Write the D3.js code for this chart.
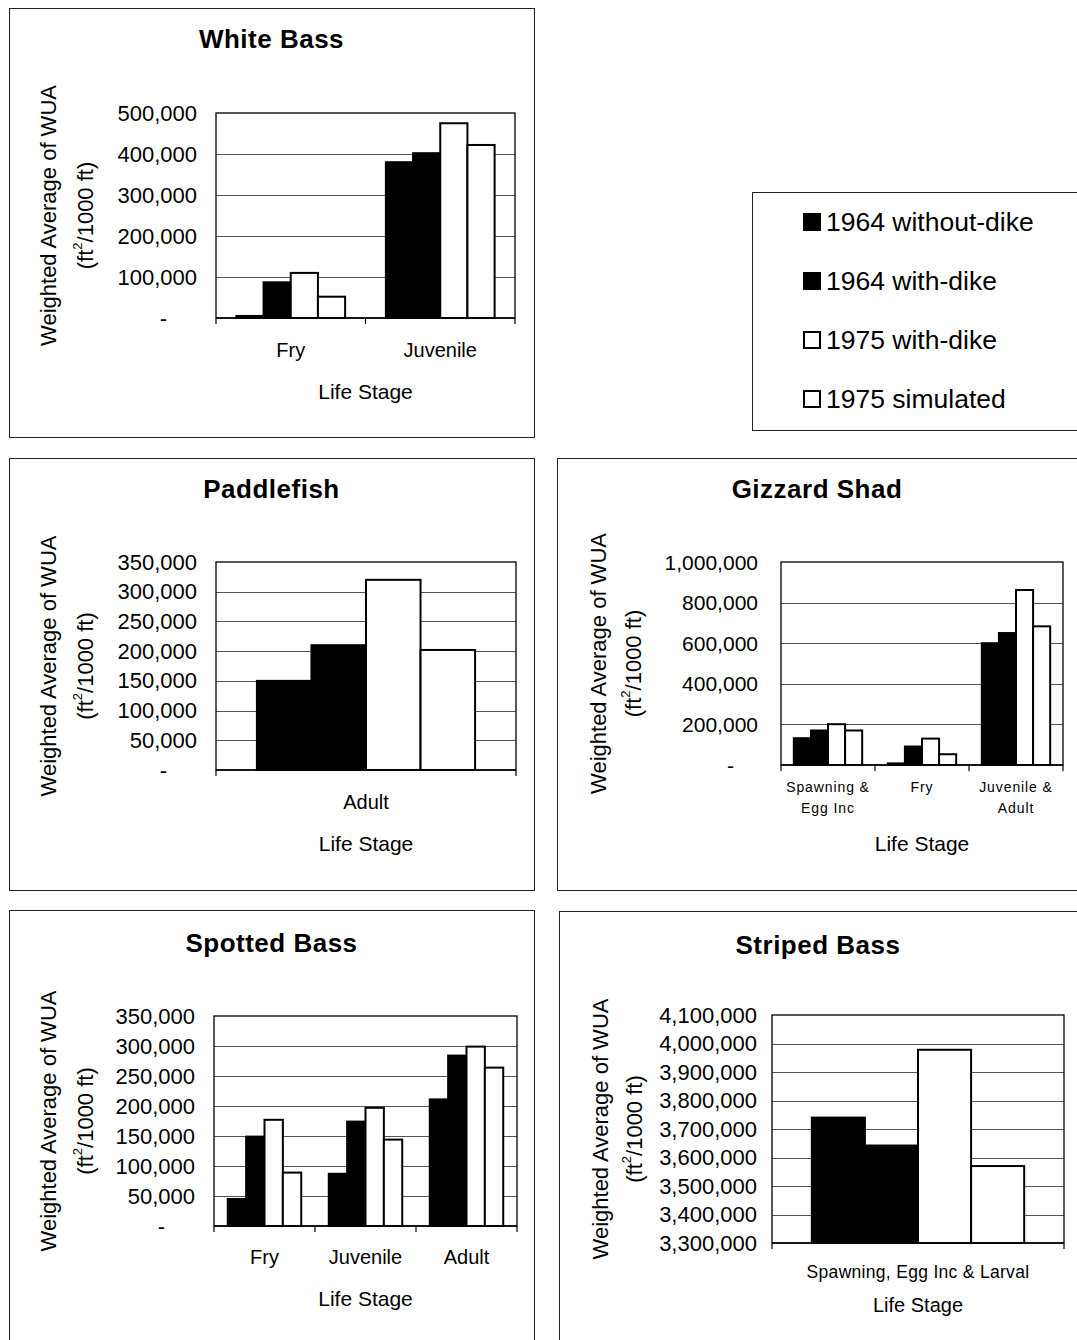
<!DOCTYPE html>
<html>
<head>
<meta charset="utf-8">
<script src="https://cdn.jsdelivr.net/npm/d3@7"></script>
<style>
  html, body { margin: 0; padding: 0; background: #fff; }
  svg { display: block; font-family: Arial, "Liberation Sans", sans-serif; }
</style>
</head>
<body>
<svg id="chart" width="1077" height="1340"></svg>
<script>
// ---------- DATA ----------
const seriesNames = ["1964 without-dike", "1964 with-dike", "1975 with-dike", "1975 simulated"];
const seriesFills = ["#000", "#000", "#fff", "#fff"];

const whiteBassStages = [["Fry"], ["Juvenile"]];
const whiteBassValues = [[5000, 87000, 110000, 52000], [380000, 402000, 475000, 422000]];
const whiteBassTicks = [0, 100000, 200000, 300000, 400000, 500000];

const paddlefishStages = [["Adult"]];
const paddlefishValues = [[150000, 210000, 320000, 202000]];
const paddlefishTicks = [0, 50000, 100000, 150000, 200000, 250000, 300000, 350000];

const gizzardStages = [["Spawning &", "Egg Inc"], ["Fry"], ["Juvenile &", "Adult"]];
const gizzardValues = [[132000, 170000, 201000, 170000], [8000, 91000, 130000, 53000], [600000, 650000, 862000, 683000]];
const gizzardTicks = [0, 200000, 400000, 600000, 800000, 1000000];

const spottedStages = [["Fry"], ["Juvenile"], ["Adult"]];
const spottedValues = [[45000, 149000, 177000, 89000], [87000, 174000, 197000, 144000], [211000, 284000, 299000, 264000]];
const spottedTicks = [0, 50000, 100000, 150000, 200000, 250000, 300000, 350000];

const stripedStages = [["Spawning, Egg Inc & Larval"]];
const stripedValues = [[3740000, 3642000, 3978000, 3570000]];
const stripedTicks = [3300000, 3400000, 3500000, 3600000, 3700000, 3800000, 3900000, 4000000, 4100000];

// ---------- LAYOUT ----------
const charts = [
  { title: "White Bass", stages: whiteBassStages, values: whiteBassValues, ticks: whiteBassTicks,
    panel: [9, 8, 534, 437], plot: [216, 113, 515, 318], titleY: 39, catY: 350, catFont: 20, catSpacing: 0,
    xTitleY: 391, xTitleFont: 21, yTitleX: [48, 85], tickGap: 19, tickFont: 22, zeroShift: 30 },
  { title: "Paddlefish", stages: paddlefishStages, values: paddlefishValues, ticks: paddlefishTicks,
    panel: [9, 458, 534, 890], plot: [216, 562, 516, 770], titleY: 489, catY: 802, catFont: 20, catSpacing: 0,
    xTitleY: 843, xTitleFont: 21, yTitleX: [48, 85], tickGap: 19, tickFont: 22, zeroShift: 30 },
  { title: "Gizzard Shad", stages: gizzardStages, values: gizzardValues, ticks: gizzardTicks,
    panel: [557, 458, 1090, 890], plot: [781, 562, 1063, 765], titleY: 489, catY: 787, catFont: 14, catSpacing: 0.9,
    catLineH: 21, xTitleY: 843, xTitleFont: 21, yTitleX: [598, 633], tickGap: 23, tickFont: 21, zeroShift: 24 },
  { title: "Spotted Bass", stages: spottedStages, values: spottedValues, ticks: spottedTicks,
    panel: [9, 910, 534, 1360], plot: [214, 1016, 517, 1226], titleY: 943, catY: 1257, catFont: 20, catSpacing: 0,
    xTitleY: 1298, xTitleFont: 21, yTitleX: [48, 85], tickGap: 19, tickFont: 22, zeroShift: 30 },
  { title: "Striped Bass", stages: stripedStages, values: stripedValues, ticks: stripedTicks,
    panel: [559, 911, 1090, 1360], plot: [772, 1015, 1064, 1243], titleY: 945, catY: 1272, catFont: 17.5, catSpacing: 0.3,
    xTitleY: 1305, xTitleFont: 20, yTitleX: [600, 634], tickGap: 15, tickFont: 22, zeroShift: 24 }
];

const svg = d3.select("#chart");
const fmt = d3.format(",");

charts.forEach(c => {
  const g = svg.append("g");
  const [px0, py0, px1, py1] = c.panel;
  g.append("rect").attr("x", px0 + 0.5).attr("y", py0 + 0.5)
    .attr("width", px1 - px0).attr("height", py1 - py0)
    .attr("fill", "#fff").attr("stroke", "#222").attr("stroke-width", 1);

  // Title
  g.append("text").attr("x", (px0 + Math.min(px1, 1077)) / 2).attr("y", c.titleY)
    .attr("text-anchor", "middle").attr("dominant-baseline", "central")
    .attr("font-size", 26).attr("font-weight", "bold").attr("letter-spacing", 0.5)
    .text(c.title);

  const [l, t, r, b] = c.plot;
  const dom = [c.ticks[0], c.ticks[c.ticks.length - 1]];
  const y = d3.scaleLinear().domain(dom).range([b, t]);
  const cats = c.stages.map(s => s.join(" "));
  const x0 = d3.scaleBand().domain(cats).range([l, r]).padding(0);
  const x1 = d3.scaleBand().domain(d3.range(seriesNames.length))
    .range([0, x0.bandwidth()]).paddingInner(0).paddingOuter(0.75);

  // gridlines
  g.append("g").selectAll("line").data(c.ticks.slice(1, -1)).join("line")
    .attr("x1", l).attr("x2", r)
    .attr("y1", d => Math.round(y(d)) + 0.5).attr("y2", d => Math.round(y(d)) + 0.5)
    .attr("stroke", "#555").attr("stroke-width", 1);

  // plot border
  g.append("rect").attr("x", l).attr("y", t).attr("width", r - l).attr("height", b - t)
    .attr("fill", "none").attr("stroke", "#000").attr("stroke-width", 1.3);

  // bars
  c.values.forEach((vals, ci) => {
    g.append("g").selectAll("rect").data(vals).join("rect")
      .attr("x", (d, i) => x0(cats[ci]) + x1(i))
      .attr("y", d => y(d))
      .attr("width", x1.bandwidth())
      .attr("height", d => y(dom[0]) - y(d))
      .attr("fill", (d, i) => seriesFills[i])
      .attr("stroke", "#000").attr("stroke-width", 2);
  });

  // x axis line + ticks at band boundaries
  g.append("line").attr("x1", l).attr("x2", r).attr("y1", b).attr("y2", b)
    .attr("stroke", "#000").attr("stroke-width", 1.6);
  const bounds = cats.map(cn => x0(cn)).concat([r]);
  g.append("g").selectAll("line").data(bounds).join("line")
    .attr("x1", d => d).attr("x2", d => d).attr("y1", b).attr("y2", b + 6)
    .attr("stroke", "#000").attr("stroke-width", 1.2);

  // y tick labels
  g.append("g").selectAll("text").data(c.ticks).join("text")
    .attr("x", d => d === 0 ? l - c.tickGap - c.zeroShift : l - c.tickGap)
    .attr("y", d => y(d))
    .attr("text-anchor", "end").attr("dominant-baseline", "central")
    .attr("font-size", c.tickFont)
    .text(d => d === 0 ? "-" : fmt(d));

  // category labels
  c.stages.forEach((lines, ci) => {
    const tx = g.append("text").attr("x", x0(cats[ci]) + x0.bandwidth() / 2)
      .attr("y", c.catY).attr("text-anchor", "middle").attr("dominant-baseline", "central")
      .attr("font-size", c.catFont).attr("letter-spacing", c.catSpacing);
    lines.forEach((ln, li) => {
      tx.append("tspan").attr("x", x0(cats[ci]) + x0.bandwidth() / 2)
        .attr("dy", li === 0 ? 0 : c.catLineH).text(ln);
    });
  });

  // x title
  g.append("text").attr("x", (l + r) / 2).attr("y", c.xTitleY)
    .attr("text-anchor", "middle").attr("dominant-baseline", "central")
    .attr("font-size", c.xTitleFont).text("Life Stage");

  // y title (two lines, rotated)
  const cy = (t + b) / 2;
  g.append("text").attr("transform", `translate(${c.yTitleX[0]},${cy}) rotate(-90)`)
    .attr("text-anchor", "middle").attr("dominant-baseline", "central")
    .attr("font-size", 22).text("Weighted Average of WUA");
  const t2 = g.append("text").attr("transform", `translate(${c.yTitleX[1]},${cy}) rotate(-90)`)
    .attr("text-anchor", "middle").attr("dominant-baseline", "central")
    .attr("font-size", 22);
  t2.append("tspan").text("(ft");
  t2.append("tspan").attr("baseline-shift", "super").attr("font-size", 13).text("2");
  t2.append("tspan").text("/1000 ft)");
});

// ---------- LEGEND ----------
const leg = svg.append("g");
leg.append("rect").attr("x", 752.5).attr("y", 192.5).attr("width", 340).attr("height", 238)
  .attr("fill", "#fff").attr("stroke", "#222").attr("stroke-width", 1);
const legY = d3.scalePoint().domain(seriesNames).range([222, 399]);
seriesNames.forEach((s, i) => {
  const sy = legY(s);
  leg.append("rect").attr("x", 804).attr("y", sy - 8).attr("width", 16).attr("height", 16)
    .attr("fill", seriesFills[i]).attr("stroke", "#000").attr("stroke-width", 2);
  leg.append("text").attr("x", 826).attr("y", sy).attr("dominant-baseline", "central")
    .attr("font-size", 26.5).text(s);
});
</script>
</body>
</html>
